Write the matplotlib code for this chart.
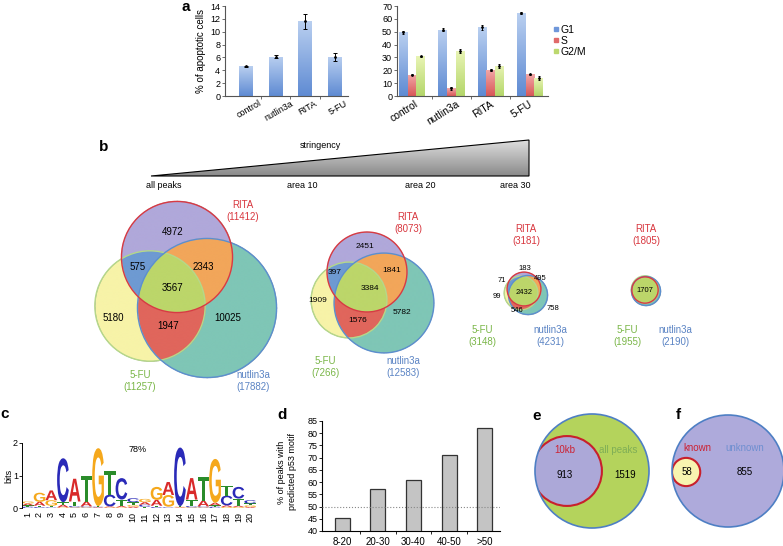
import numpy as np
import matplotlib
matplotlib.use('Agg')
import matplotlib.pyplot as plt
from matplotlib.patches import Circle, Polygon, PathPatch
from matplotlib.textpath import TextPath
from matplotlib.font_manager import FontProperties
from matplotlib.transforms import Affine2D
from matplotlib.colors import LinearSegmentedColormap, to_rgba
from matplotlib.lines import Line2D

plt.rcParams['font.family'] = ['Liberation Sans', 'DejaVu Sans']

# ---------------- data ----------------
treatments = ['control', 'nutlin3a', 'RITA', '5-FU']
apoptotic = [4.6, 6.1, 11.6, 6.1]
apoptotic_err = [0.1, 0.25, 1.2, 0.6]

phases = ['G1', 'S', 'G2/M']
g1 = [49.5, 51.5, 53.5, 64.5]
s_phase = [16.5, 6.0, 20.5, 17.0]
g2m = [31.0, 35.0, 23.5, 14.0]
g1_err = [1.2, 1.2, 2.0, 0.5]
s_err = [0.5, 1.3, 0.8, 0.5]
g2m_err = [0.5, 1.2, 1.5, 1.2]

stringency_levels = ['all peaks', 'area 10', 'area 20', 'area 30']
venn_names = ['RITA', '5-FU', 'nutlin3a']
venn_totals = [[11412, 11257, 17882],
               [8073, 7266, 12583],
               [3181, 3148, 4231],
               [1805, 1955, 2190]]
venn1_counts = {'R': 4972, 'RF': 575, 'RN': 2343, 'RFN': 3567, 'F': 5180, 'FN': 1947, 'N': 10025}
venn2_counts = {'R': 2451, 'RF': 397, 'RN': 1841, 'RFN': 3384, 'F': 1909, 'FN': 1576, 'N': 5782}
venn3_counts = {'R': 183, 'RF': 71, 'RN': 495, 'RFN': 2432, 'F': 99, 'FN': 546, 'N': 758}
venn4_counts = {'RFN': 1707}

logo_positions = list(range(1, 21))
logo_A = [0.06, 0.12, 0.30, 0.08, 0.70, 0.15, 0.02, 0.03, 0.04, 0.04,
          0.08, 0.18, 0.40, 0.02, 0.66, 0.18, 0.08, 0.05, 0.04, 0.03]
logo_C = [0.04, 0.03, 0.02, 1.35, 0.04, 0.03, 0.02, 0.36, 0.66, 0.12,
          0.06, 0.03, 0.02, 1.80, 0.04, 0.03, 0.04, 0.30, 0.36, 0.10]
logo_G = [0.06, 0.28, 0.17, 0.02, 0.02, 0.02, 1.78, 0.02, 0.02, 0.05,
          0.10, 0.40, 0.36, 0.02, 0.02, 0.02, 1.35, 0.03, 0.03, 0.05]
logo_T = [0.04, 0.04, 0.05, 0.08, 0.14, 0.78, 0.02, 0.72, 0.20, 0.09,
          0.04, 0.04, 0.02, 0.02, 0.20, 0.72, 0.04, 0.30, 0.22, 0.06]
motif_pct_label = '78%'

score_bins = ['8-20', '20-30', '30-40', '40-50', '>50']
pct_with_motif = [45.5, 57.0, 61.0, 71.0, 82.0]
threshold = 50

e_labels = ['10kb', 'all peaks']
e_counts = [913, 1519]
f_labels = ['known', 'unknown']
f_counts = [58, 855]

# ---------------- figure ----------------
W, H = 783, 546
fig = plt.figure(figsize=(W / 100, H / 100), dpi=100)


def px_axes(x0, y0, x1, y1):
    ax = fig.add_axes([x0 / W, 1 - y1 / H, (x1 - x0) / W, (y1 - y0) / H])
    ax.set_facecolor('none')
    return ax


canvas = fig.add_axes([0, 0, 1, 1])
canvas.set_facecolor('none')
canvas.axis('off')

# panel letters
for lab, (x, y) in zip('abcdef', [(186, 7), (104, 147), (5, 414), (282, 415), (537, 416), (678, 415)]):
    canvas.text(x, y, lab, fontsize=11, fontweight='bold', ha='center', va='center')


def gradient_bars(ax, bars, top, bottom):
    cmap = LinearSegmentedColormap.from_list('g', [top, bottom])
    grad = np.linspace(0, 1, 64).reshape(-1, 1)
    for b in bars:
        x0, y0, w, h = b.get_x(), b.get_y(), b.get_width(), b.get_height()
        im = ax.imshow(grad, cmap=cmap, extent=(x0, x0 + w, y0, y0 + h), origin='upper',
                       aspect='auto', zorder=2, interpolation='bilinear')
        im.set_clip_path(b)
        b.set_facecolor('none')
        b.set_edgecolor('none')


def style_axes(ax):
    for sp in ['top', 'right']:
        ax.spines[sp].set_visible(False)
    for sp in ['left', 'bottom']:
        ax.spines[sp].set_color('#555555')
        ax.spines[sp].set_linewidth(0.8)
    ax.tick_params(axis='y', labelsize=6.5, length=2, width=0.6, pad=1.5, color='#555555')
    ax.tick_params(axis='x', which='major', length=0)
    ax.tick_params(axis='x', which='minor', length=2.5, width=0.6, color='#555555')
    ax.set_xticks([])


# ---- panel a left ----
ax1 = px_axes(225, 6, 348, 96)
xa = np.arange(len(treatments))
bars = ax1.bar(xa, apoptotic, width=0.47, zorder=2)
gradient_bars(ax1, bars, '#b9cff0', '#5f8bd3')
ax1.errorbar(xa, apoptotic, yerr=apoptotic_err, fmt='.', ms=2, color='black',
             elinewidth=0.7, capsize=1.2, capthick=0.7, zorder=3)
ax1.set_xlim(-0.71, 3.45)
ax1.set_ylim(0, 14)
ax1.set_yticks(range(0, 15, 2))
style_axes(ax1)
ax1.set_xticks([0.5, 1.5, 2.5], minor=True)
for i, t in enumerate(treatments):
    ax1.text(i + 0.1, -0.03, t, transform=ax1.get_xaxis_transform(), rotation=30,
             ha='center', va='top', fontsize=6.5)
canvas.text(201, 51, '% of apoptotic cells', rotation=90, ha='center', va='center', fontsize=7)

# ---- panel a right ----
ax2 = px_axes(397, 6, 548, 96)
w = 0.22
b1 = ax2.bar(xa - w, g1, width=w, zorder=2)
b2 = ax2.bar(xa, s_phase, width=w, zorder=2)
b3 = ax2.bar(xa + w, g2m, width=w, zorder=2)
gradient_bars(ax2, b1, '#b9cff0', '#5f8bd3')
gradient_bars(ax2, b2, '#f2a8a8', '#d85858')
gradient_bars(ax2, b3, '#e8f4b4', '#b4d66a')
for off, vals, errs in [(-w, g1, g1_err), (0, s_phase, s_err), (w, g2m, g2m_err)]:
    ax2.errorbar(xa + off, vals, yerr=errs, fmt='.', ms=2, color='black',
                 elinewidth=0.7, capsize=1.0, capthick=0.7, zorder=3)
ax2.set_xlim(-0.38, 3.46)
ax2.set_ylim(0, 70)
ax2.set_yticks(range(0, 71, 10))
style_axes(ax2)
ax2.set_xticks([0.5, 1.5, 2.5], minor=True)
for i, t in enumerate(treatments):
    ax2.text(i - 0.2, -0.03, t, transform=ax2.get_xaxis_transform(), rotation=32,
             ha='center', va='top', fontsize=7.5)
handles = [Line2D([], [], marker='s', ls='none', markersize=3, color=c)
           for c in ['#6f97da', '#e06a6a', '#bcd86e']]
ax2.legend(handles, phases, loc='upper left', bbox_to_anchor=(553 / W, 1 - 25 / H),
           bbox_transform=fig.transFigure, frameon=False, fontsize=7.5, borderpad=0,
           handletextpad=0.1, labelspacing=0.1, handlelength=0.6, borderaxespad=0)

# ---- panel b: stringency triangle ----
tri = Polygon([(151, 176), (529, 140), (529, 176)], closed=True, fc='none', ec='black', lw=0.8, zorder=3)
canvas.add_patch(tri)
tri_cmap = LinearSegmentedColormap.from_list('tri', ['#dedede', '#8a8a8a'])
gim = canvas.imshow(np.linspace(0, 1, 64).reshape(-1, 1), cmap=tri_cmap,
                    extent=(151, 529, 176, 140), origin='upper', aspect='auto',
                    interpolation='bilinear', zorder=2)
gim.set_clip_path(tri)
canvas.text(320, 145, 'stringency', ha='center', va='center', fontsize=6.5)
for lab, x in zip(stringency_levels, [164, 302, 420, 515]):
    canvas.text(x, 186, lab, ha='center', va='center', fontsize=6.5)

region_colors = {1: '#b0a8da', 2: '#f7f3a8', 4: '#7fc6b6', 3: '#6e9ad2',
                 5: '#f2a65a', 6: '#e0665c', 7: '#bcd66a'}
edge_colors = ['#d83a44', '#b5d88a', '#5b8fcf']
name_colors = ['#d8373f', '#7ab648', '#5b84c4']

venn_layout = [
    dict(centers=[(177, 257), (150, 306), (207, 308)], scale=0.52,
         label_pos=[(243, 211), (140, 381), (253, 381)], fs=7,
         num_pos={'R': (173, 232), 'RF': (138, 267), 'RN': (203, 267), 'RFN': (172, 288),
                  'F': (113, 318), 'FN': (168, 326), 'N': (228, 318)}),
    dict(centers=[(367, 272), (349, 300), (384, 303)], scale=0.445,
         label_pos=[(408, 223), (325, 367), (403, 367)], fs=6,
         num_pos={'R': (365, 247), 'RF': (335, 272), 'RN': (392, 271), 'RFN': (370, 289),
                  'F': (318, 300), 'FN': (358, 320), 'N': (402, 313)}),
    dict(centers=[(524, 289), (521, 293), (528, 295)], scale=0.30,
         label_pos=[(526, 235), (482, 336), (550, 336)], fs=5.5,
         num_pos={'R': (525, 268), 'RF': (502, 280), 'RN': (540, 279), 'RFN': (524, 292),
                  'F': (497, 297), 'FN': (517, 311), 'N': (553, 308)}),
    dict(centers=[(645, 290), (645, 289.5), (646, 291)], scale=0.31,
         label_pos=[(646, 235), (627, 336), (675, 336)], fs=5.5,
         num_pos={'RFN': (645, 290)}),
]
venn_counts = [venn1_counts, venn2_counts, venn3_counts, venn4_counts]

for totals, lay, counts in zip(venn_totals, venn_layout, venn_counts):
    radii = [lay['scale'] * np.sqrt(t) for t in totals]
    cs = lay['centers']
    x0 = min(c[0] - r for c, r in zip(cs, radii)) - 2
    x1 = max(c[0] + r for c, r in zip(cs, radii)) + 2
    y0 = min(c[1] - r for c, r in zip(cs, radii)) - 2
    y1 = max(c[1] + r for c, r in zip(cs, radii)) + 2
    nx, ny = int((x1 - x0) * 4), int((y1 - y0) * 4)
    X, Y = np.meshgrid(np.linspace(x0, x1, nx), np.linspace(y0, y1, ny))
    code = np.zeros(X.shape, dtype=int)
    for k, (c, r) in enumerate(zip(cs, radii)):
        code += (((X - c[0]) ** 2 + (Y - c[1]) ** 2) <= r ** 2).astype(int) << k
    img = np.zeros(X.shape + (4,))
    for cv, col in region_colors.items():
        img[code == cv] = to_rgba(col)
    canvas.imshow(img, extent=(x0, x1, y1, y0), origin='upper', aspect='auto',
                  interpolation='bilinear', zorder=1)
    for k in [1, 2, 0]:
        canvas.add_patch(Circle(cs[k], radii[k], fill=False, ec=edge_colors[k], lw=1.0, zorder=2))
    for name, tot, pos, col in zip(venn_names, totals, lay['label_pos'], name_colors):
        canvas.text(pos[0], pos[1], f'{name}\n({tot})', color=col, ha='center', va='center',
                    fontsize=7, linespacing=1.15)
    for key, val in counts.items():
        px, py = lay['num_pos'][key]
        canvas.text(px, py, str(val), ha='center', va='center', fontsize=lay['fs'], zorder=4)

# ---- panel c: sequence logo ----
axc = px_axes(22, 443, 256, 508)
fp = FontProperties(family='Liberation Sans', weight='bold')
letter_colors = {'A': '#d92a2a', 'C': '#2a2ab8', 'G': '#f5a81c', 'T': '#2a8c2a'}


def draw_letter(ax, ch, x, y, wd, h, color):
    tp = TextPath((0, 0), ch, size=1, prop=fp)
    bb = tp.get_extents()
    t = Affine2D().translate(-bb.x0, -bb.y0).scale(wd / bb.width, h / bb.height).translate(x - wd / 2, y)
    ax.add_patch(PathPatch(t.transform_path(tp), fc=color, ec='none', lw=0))


for i, pos in enumerate(logo_positions):
    heights = [('A', logo_A[i]), ('C', logo_C[i]), ('G', logo_G[i]), ('T', logo_T[i])]
    heights.sort(key=lambda z: z[1])
    base = 0.0
    for ch, h in heights:
        draw_letter(axc, ch, pos, base, 1.0, h, letter_colors[ch])
        base += h
axc.set_xlim(0.5, 20.5)
axc.set_ylim(0, 2)
for sp in ['top', 'right', 'bottom']:
    axc.spines[sp].set_visible(False)
axc.spines['left'].set_linewidth(0.7)
axc.set_yticks([0, 1, 2])
axc.set_xticks(logo_positions)
axc.set_xticklabels([str(p) for p in logo_positions], rotation=90)
axc.tick_params(axis='y', labelsize=6.5, length=2, width=0.6, pad=1)
axc.tick_params(axis='x', labelsize=6.5, length=0, pad=3)
canvas.text(9, 476, 'bits', rotation=90, ha='center', va='center', fontsize=6.5)
canvas.text(138, 450, motif_pct_label, ha='center', va='center', fontsize=6.5)

# ---- panel d ----
axd = px_axes(322, 421, 500, 531)
xd = np.arange(len(score_bins))
axd.bar(xd, pct_with_motif, width=0.42, color='#c4c4c4', edgecolor='#333333', lw=0.9, zorder=2)
axd.axhline(threshold, color='#888888', ls=':', lw=0.8, zorder=3)
axd.set_xlim(-0.56, 4.42)
axd.set_ylim(40, 85)
axd.set_yticks(range(40, 86, 5))
for sp in ['top', 'right']:
    axd.spines[sp].set_visible(False)
for sp in ['left', 'bottom']:
    axd.spines[sp].set_linewidth(0.8)
axd.set_xticks(xd)
axd.set_xticklabels(score_bins)
axd.set_xticks([0.5, 1.5, 2.5, 3.5], minor=True)
axd.tick_params(axis='x', which='major', length=0, labelsize=7, pad=4)
axd.tick_params(axis='x', which='minor', length=2.5, width=0.6)
axd.tick_params(axis='y', labelsize=6.5, length=2, width=0.6, pad=1)
canvas.text(287, 472, '% of peaks with\npredicted p53 motif', rotation=90, ha='center',
            va='center', fontsize=6.5, linespacing=1.2)

# ---- panel e ----
ke = 1.156
r_big = ke * np.sqrt(sum(e_counts))
r_small = ke * np.sqrt(e_counts[0])
ce = (592, 471)
big_e = Circle(ce, r_big, fc='#b4d35c', ec='none', zorder=1)
canvas.add_patch(big_e)
small_e = Circle((ce[0] - r_big + r_small * 0.93 - 0.5, ce[1]), r_small, fc='#aca8d8',
                 ec='#c8202c', lw=1.5, zorder=2)
canvas.add_patch(small_e)
small_e.set_clip_path(big_e)
canvas.add_patch(Circle(ce, r_big, fill=False, ec='#4e7fc4', lw=1.2, zorder=3))
canvas.text(565, 450, e_labels[0], color='#cc2233', ha='center', va='center', fontsize=7)
canvas.text(618, 450, e_labels[1], color='#7fae56', ha='center', va='center', fontsize=7)
canvas.text(565, 475, str(e_counts[0]), ha='center', va='center', fontsize=7)
canvas.text(625, 475, str(e_counts[1]), ha='center', va='center', fontsize=7)

# ---- panel f ----
kf = 1.853
rf_big = kf * np.sqrt(f_counts[0] + f_counts[1])
rf_small = kf * np.sqrt(f_counts[0])
cf = (728, 471)
big_f = Circle(cf, rf_big, fc='#aeaadb', ec='none', zorder=1)
canvas.add_patch(big_f)
small_f = Circle((cf[0] - rf_big + rf_small, cf[1] + 1), rf_small, fc='#f8f4b0',
                 ec='#c8202c', lw=1.5, zorder=2)
canvas.add_patch(small_f)
small_f.set_clip_path(big_f)
canvas.add_patch(Circle(cf, rf_big, fill=False, ec='#4e7fc4', lw=1.2, zorder=3))
canvas.text(697, 448, f_labels[0], color='#cc2233', ha='center', va='center', fontsize=7)
canvas.text(745, 448, f_labels[1], color='#6f8fd0', ha='center', va='center', fontsize=7)
canvas.text(687, 472, str(f_counts[0]), ha='center', va='center', fontsize=7)
canvas.text(745, 472, str(f_counts[1]), ha='center', va='center', fontsize=7)

canvas.set_xlim(0, W)
canvas.set_ylim(H, 0)
fig.savefig('out.png', dpi=100)
